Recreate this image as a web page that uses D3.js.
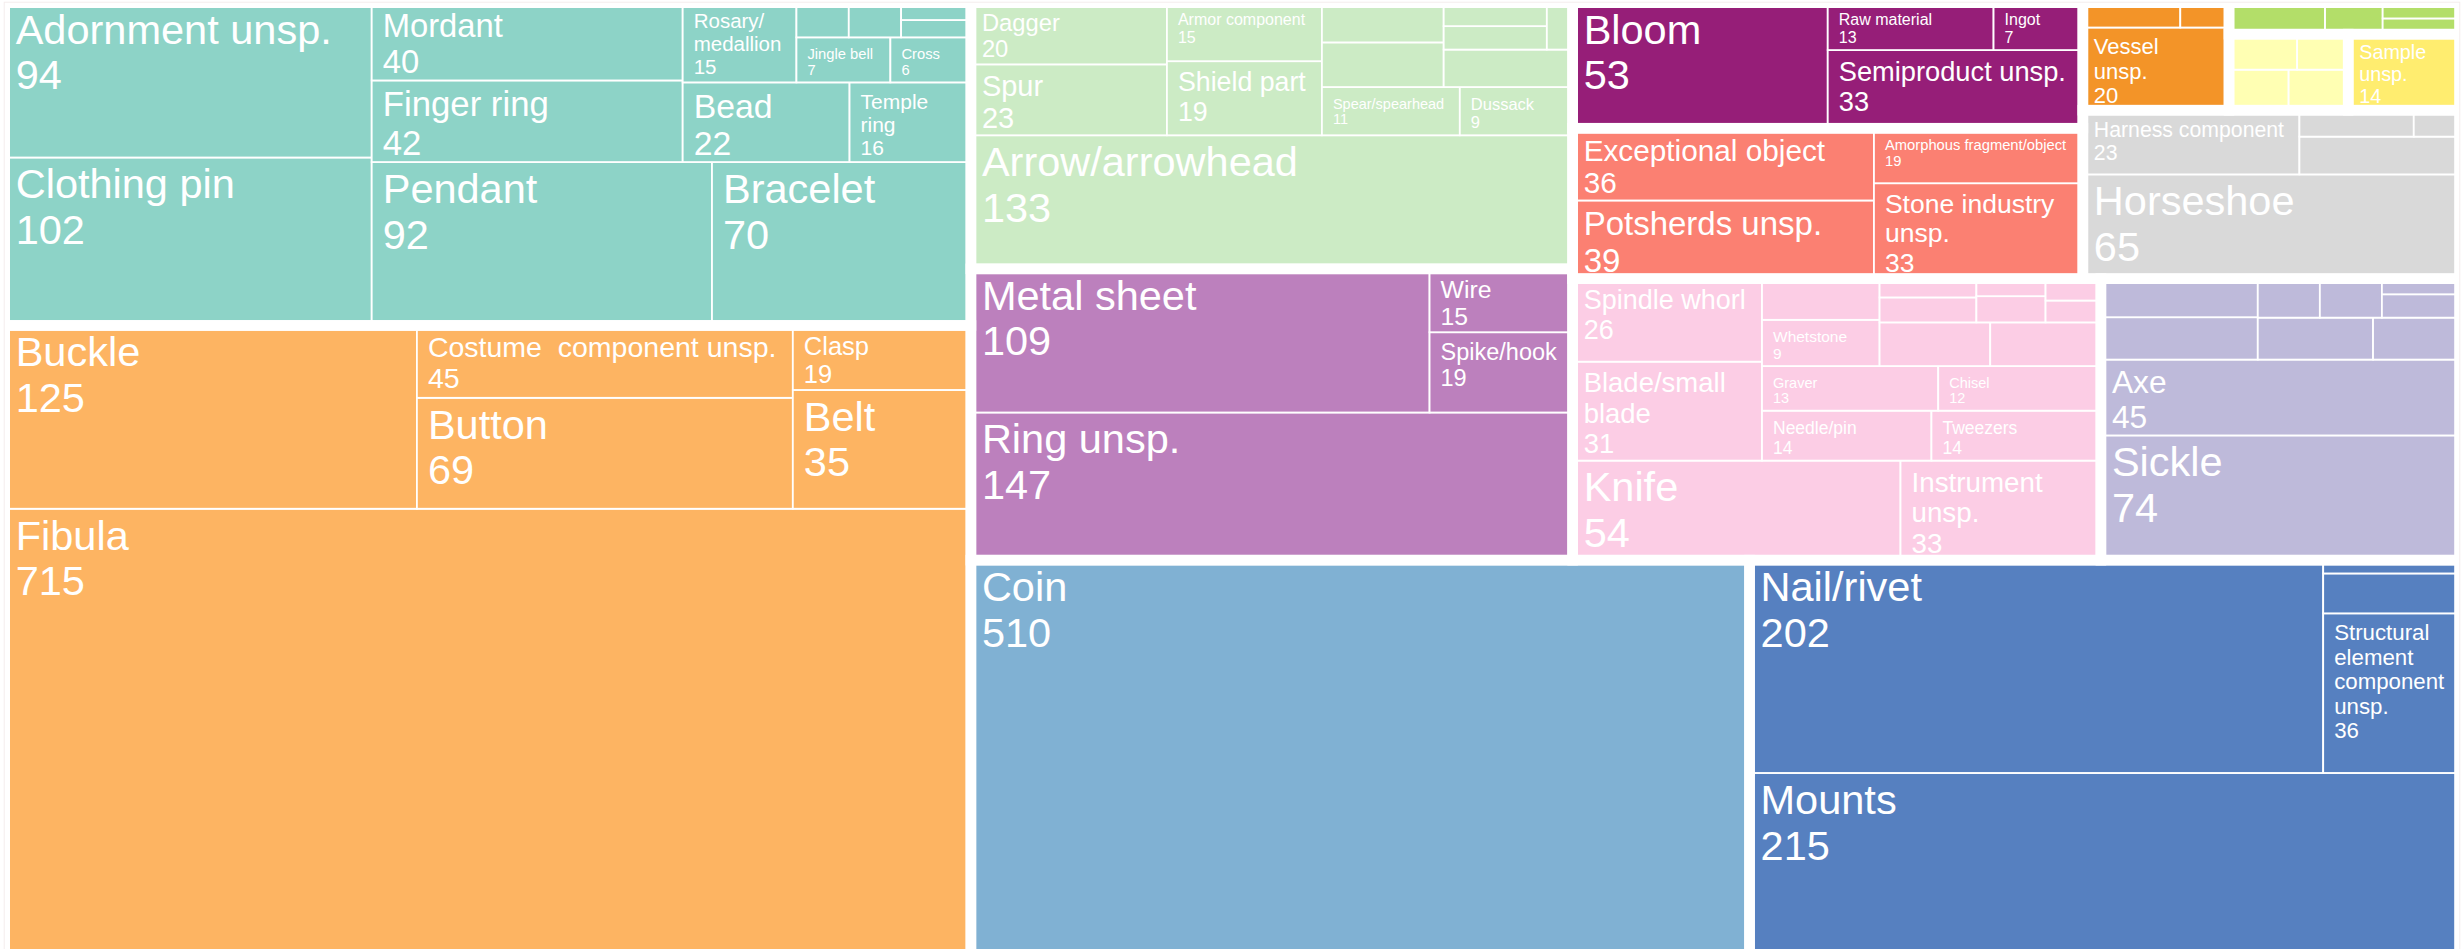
<!DOCTYPE html>
<html>
<head>
<meta charset="utf-8">
<script src="https://cdn.jsdelivr.net/npm/d3@7"></script>
<style>
  html, body { margin: 0; padding: 0; background: #fff; overflow: hidden; }
  svg { display: block; }
  text { font-family: "Liberation Sans", Arial, sans-serif; fill: #fff; white-space: pre; }
</style>
</head>
<body>
<div id="chart"></div>
<script>
// groups in the order the treemap places them (largest first)
const groupNames = ["Clothing", "Adornment", "Coins", "Construction", "Metalwork", "Weapons",
    "Tools", "Agriculture", "Other finds", "Metallurgy", "Horse equipment", "Vessels",
    "Miscellaneous", "Samples", "Glass"];
const groupColors = ["#fdb462", "#8dd3c7", "#80b1d3", "#5680c0", "#bc80bd", "#ccebc5",
    "#fccde5", "#bebada", "#fb8072", "#961e78", "#d9d9d9", "#f39428",
    "#ffffb3", "#ffed6f", "#b3de69"];

// [label, count] per group; null = no label legible in the source
const clothing = [["Fibula", 715], ["Buckle", 125], ["Button", 69], ["Costume  component unsp.", 45], ["Belt", 35], ["Clasp", 19]];
const adornment = [["Clothing pin", 102], ["Adornment unsp.", 94], ["Pendant", 92], ["Bracelet", 70], ["Finger ring", 42], ["Mordant", 40],
    ["Bead", 22], ["Temple ring", 16], ["Rosary/medallion", 15], ["Jingle bell", 7], ["Cross", 6], [null, 3], [null, 3], [null, 2], [null, 2]];
const coins = [["Coin", 510]];
const construction = [["Mounts", 215], ["Nail/rivet", 202], ["Structural element component unsp.", 36], [null, 9], [null, 3]];
const metalwork = [["Ring unsp.", 147], ["Metal sheet", 109], ["Spike/hook", 19], ["Wire", 15]];
const weapons = [["Arrow/arrowhead", 133], ["Spur", 23], ["Dagger", 20], ["Shield part", 19], ["Armor component", 15], ["Spear/spearhead", 11],
    ["Dussack", 9], [null, 9], [null, 8], [null, 8], [null, 4], [null, 4], [null, 2]];
const tools = [["Knife", 54], ["Instrument unsp.", 33], ["Blade/small blade", 31], ["Spindle whorl", 26], ["Needle/pin", 14], ["Tweezers", 14],
    ["Graver", 13], ["Chisel", 12], ["Whetstone", 9], [null, 8], [null, 8], [null, 8], [null, 4], [null, 3], [null, 3], [null, 2], [null, 2], [null, 2]];
const agriculture = [["Sickle", 74], ["Axe", 45], [null, 11], [null, 10], [null, 8], [null, 6], [null, 4], [null, 4], [null, 3], [null, 2]];
const otherFinds = [["Potsherds unsp.", 39], ["Exceptional object", 36], ["Stone industry unsp.", 33], ["Amorphous fragment/object", 19]];
const metallurgy = [["Bloom", 53], ["Semiproduct unsp.", 33], ["Raw material", 13], ["Ingot", 7]];
const horse = [["Horseshoe", 65], ["Harness component", 23], [null, 10], [null, 5], [null, 2]];
const vessels = [["Vessel unsp.", 20], [null, 4], [null, 2]];
const misc = [[null, 4], [null, 4], [null, 4], [null, 3]];
const samples = [["Sample unsp.", 14]];
const glass = [[null, 5], [null, 3], [null, 2], [null, 2]];

const groupItems = [clothing, adornment, coins, construction, metalwork, weapons, tools,
    agriculture, otherFinds, metallurgy, horse, vessels, misc, samples, glass];

const width = 2461, height = 949;
const groupGap = 10.6, cellLine = 1.8, pad = 11, maxFont = 41.5, lineGap = 1.1;

const data = {
    name: "root",
    children: groupNames.map((name, i) => ({
        name,
        color: groupColors[i],
        children: groupItems[i].map(([label, value]) => ({ label, value }))
    }))
};

// layout is done in a unit square, y pointing up, then stretched over the page
const root = d3.hierarchy(data).sum((d) => d.value || 0);
d3.treemap()
    .tile(d3.treemapSquarify.ratio(1))
    .size([100, 100])
    .round(false)(root);

const xScale = d3.scaleLinear().domain([0, 100]).range([4.7, 2459.5]);
const yScale = d3.scaleLinear().domain([0, 100]).range([956, 2.7]);
const box = (d) => ({
    x: xScale(d.x0), w: xScale(d.x1) - xScale(d.x0),
    y: yScale(d.y1), h: yScale(d.y0) - yScale(d.y1)
});

const svg = d3.select("#chart").append("svg")
    .attr("width", width)
    .attr("height", height);

const leaves = root.leaves();
const groups = root.children;

svg.append("g").selectAll("rect")
    .data(leaves)
    .enter()
    .append("rect")
    .attr("x", (d) => box(d).x)
    .attr("y", (d) => box(d).y)
    .attr("width", (d) => box(d).w)
    .attr("height", (d) => box(d).h)
    .attr("fill", (d) => d.parent.data.color)
    .attr("stroke", "#fff")
    .attr("stroke-width", cellLine);

svg.append("g").selectAll("rect")
    .data(groups)
    .enter()
    .append("rect")
    .attr("x", (d) => box(d).x)
    .attr("y", (d) => box(d).y)
    .attr("width", (d) => box(d).w)
    .attr("height", (d) => box(d).h)
    .attr("fill", "none")
    .attr("stroke", "#fff")
    .attr("stroke-width", groupGap);

svg.append("rect")
    .attr("x", 4.2).attr("y", 2.2)
    .attr("width", 2455.6).attr("height", 960)
    .attr("fill", "none")
    .attr("stroke", "#f4eded")
    .attr("stroke-width", 1);

// label sizing: biggest font whose wrapped text fits inside the cell
const ctx = document.createElement("canvas").getContext("2d");
function textWidth(s, fs) {
    ctx.font = `${fs}px "Liberation Sans", Arial, sans-serif`;
    return ctx.measureText(s).width;
}

function wrapLabel(label, fs, maxW) {
    const tokens = label.split(/(?<= )(?=[^ ])|(?<=\/)/);
    const lines = [];
    let line = "";
    tokens.forEach((tok) => {
        const cand = line + tok;
        if (line === "" || textWidth(cand.trimEnd(), fs) <= maxW) {
            line = cand;
        } else {
            lines.push(line.trimEnd());
            line = tok;
        }
    });
    if (line) lines.push(line.trimEnd());
    return lines;
}

function fitLabel(label, value, w, h) {
    const aw = w - 26, ah = h - 18;
    for (let fs = maxFont; fs >= 8; fs -= 0.25) {
        const lines = wrapLabel(label, fs, aw).concat([String(value)]);
        const tall = (0.72 + (lines.length - 1) * lineGap) * fs;
        if (tall > ah) continue;
        if (lines.some((l) => textWidth(l, fs) > aw)) continue;
        return { fs, lines };
    }
    return null;
}

const labelled = leaves
    .filter((d) => d.data.label)
    .map((d) => {
        const b = box(d);
        return { b, fit: fitLabel(d.data.label, d.data.value, b.w, b.h) };
    })
    .filter((d) => d.fit);

const texts = svg.append("g").selectAll("text")
    .data(labelled)
    .enter()
    .append("text")
    .attr("font-size", (d) => d.fit.fs)
    .attr("x", (d) => d.b.x + pad)
    .attr("y", (d) => d.b.y + pad + 0.72 * d.fit.fs);

texts.selectAll("tspan")
    .data((d) => d.fit.lines.map((line, i) => ({ line, i, fs: d.fit.fs, x: d.b.x + pad })))
    .enter()
    .append("tspan")
    .attr("x", (d) => d.x)
    .attr("dy", (d) => d.i === 0 ? 0 : lineGap * d.fs)
    .text((d) => d.line);
</script>
</body>
</html>
